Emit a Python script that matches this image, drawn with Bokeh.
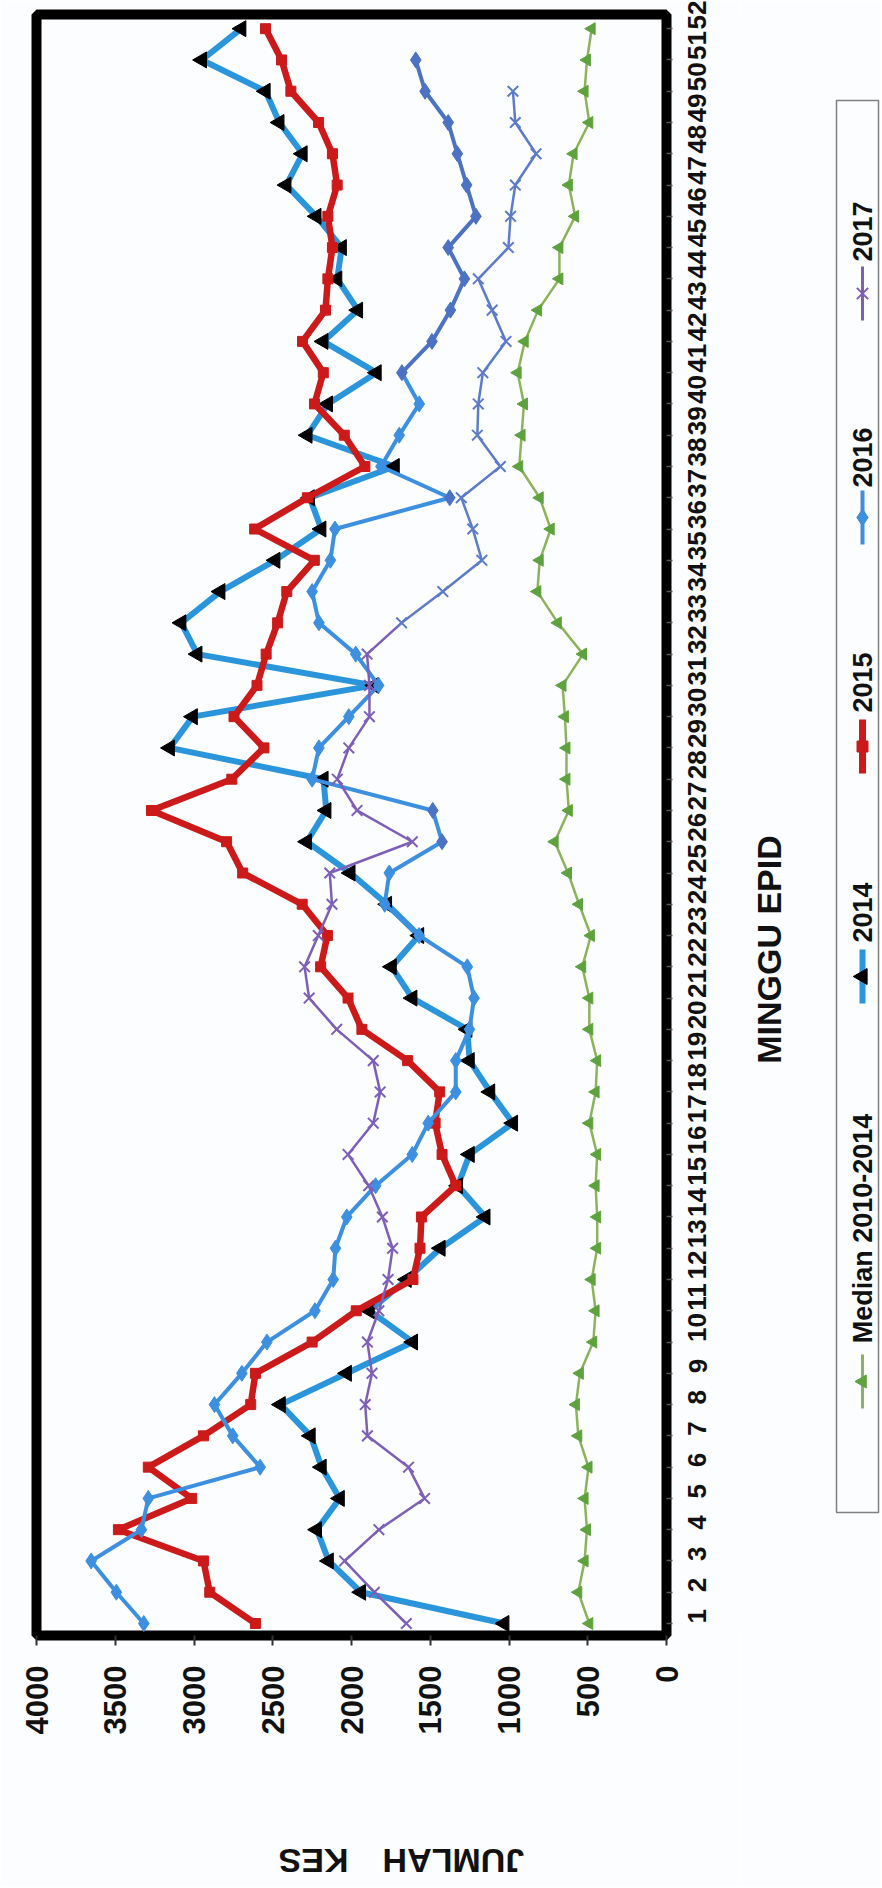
import math
from bokeh.plotting import figure
from bokeh.models import Range1d, FixedTicker, Label
from bokeh.layouts import row
from bokeh.embed import file_html
from bokeh.resources import INLINE
from bokeh.core.properties import value

NAN = float("nan")

# ---------------- data ----------------
WEEKS = list(range(1, 53))
CASE_TICKS = [0, 500, 1000, 1500, 2000, 2500, 3000, 3500, 4000]
SERIES_NAMES = ["Median 2010-2014", "2014", "2015", "2016", "2017"]

MEDIAN_2010_2014 = [490, 560, 520, 505, 520, 495, 560, 575, 550, 465,
                    450, 475, 440, 440, 450, 440, 490, 450, 440, 490,
                    490, 535, 480, 555, 625, 710, 620, 635, 635, 645,
                    660, 530, 690, 820, 805, 735, 805, 935, 920, 905,
                    945, 900, 815, 680, 680, 580, 620, 590, 490, 520,
                    505, 475]

CASES_2014 = [1030, 1940, 2145, 2220, 2075, 2190, 2260, 2450, 2030, 1610,
              1885, 1650, 1435, 1150, 1325, 1250, 975, 1120, 1250, 1265,
              1614, 1745, 1571, 1775, 2007, 2284, 2160, 2178, 3154, 3008,
              1857, 2979, 3081, 2833, 2484, 2192, 2265, 1726, 2280, 2150,
              1841, 2179, 1959, 2091, 2062, 2223, 2414, 2311, 2458, 2546,
              2950, 2700]

CASES_2015 = [2610, 2900, 2940, 3480, 3015, 3290, 2940, 2640, 2610, 2250,
              1970, 1610, 1565, 1556, 1338, 1425, 1469, 1440, 1644, 1934,
              2022, 2196, 2153, 2313, 2691, 2793, 3270, 2760, 2556, 2746,
              2600, 2542, 2469, 2411, 2236, 2615, 2280, 1915, 2046, 2235,
              2179, 2311, 2165, 2150, 2121, 2150, 2091, 2121, 2209, 2385,
              2444, 2546]

CASES_2016 = [3319, 3493, 3653, 3334, 3290, 2580, 2754, 2870, 2696, 2537,
              2232, 2116, 2102, 2030, 1847, 1614, 1513, 1338, 1338, 1251,
              1222, 1265, 1571, 1789, 1760, 1425, 1484, 2250, 2207, 2017,
              1828, 1973, 2207, 2250, 2134, 2105, 1376, 1813, 1697, 1570,
              1680, 1489, 1372, 1283, 1386, 1210, 1269, 1328, 1386, 1533,
              1592, NAN]

CASES_2017 = [1652, 1855, 2044, 1826, 1536, 1638, 1899, 1913, 1870, 1899,
              1826, 1768, 1739, 1804, 1891, 2022, 1862, 1818, 1862, 2094,
              2269, 2298, 2211, 2124, 2138, 1614, 1965, 2090, 2017, 1886,
              1886, 1901, 1682, 1420, 1172, 1230, 1303, 1055, 1201, 1195,
              1166, 1019, 1107, 1195, 1004, 990, 960, 828, 960, 975,
              NAN, NAN]

X_TITLE = "JUMLAH\u2003KES"
Y_TITLE = "MINGGU EPID"

# ---------------- styles ----------------
BG = "#fcfdfe"
C_MED_LINE = "#8db35a"
C_MED_MARK = "#5ea23e"
C_2014 = "#2b95db"
C_2015 = "#cc1a1a"
C_2016 = "#3d8fe0"
C_2016_DARK = "#4d72c4"
C_2017 = "#7d5fb9"
C_2017_LATE = "#5c7bcb"
FONT = "Liberation Sans"
TXT = "#111111"

H = 1886
TOP = 14
FRAME_H = 1621
BOTTOM = H - TOP - FRAME_H
W_MAIN = 740
LEFT = 36
FRAME_W = 630

p = figure(width=W_MAIN, height=H,
           x_range=Range1d(4000, 0), y_range=Range1d(0.616, 52.454),
           y_axis_location="right", toolbar_location=None, output_backend="svg",
           min_border_left=LEFT, min_border_right=W_MAIN - LEFT - FRAME_W,
           min_border_top=TOP, min_border_bottom=BOTTOM,
           background_fill_color=BG, border_fill_color=BG)
p.outline_line_color = "black"
p.outline_line_width = 10
p.grid.visible = False

xa = p.xaxis[0]
xa.ticker = FixedTicker(ticks=CASE_TICKS)
xa.major_label_orientation = math.pi / 2
xa.major_label_text_font = FONT
xa.major_label_text_font_style = "bold"
xa.major_label_text_font_size = "31px"
xa.major_label_text_color = TXT
xa.major_tick_out = 10
xa.major_tick_in = 0
xa.major_tick_line_width = 2
xa.major_tick_line_color = "#333333"
xa.minor_tick_line_color = None
xa.axis_line_color = None
xa.major_label_standoff = 20

ya = p.yaxis[0]
ya.ticker = FixedTicker(ticks=WEEKS)
ya.major_label_orientation = math.pi / 2
ya.major_label_text_font = FONT
ya.major_label_text_font_style = "bold"
ya.major_label_text_font_size = "26px"
ya.major_label_text_color = TXT
ya.major_tick_out = 6
ya.major_tick_in = 0
ya.major_tick_line_width = 1.5
ya.major_tick_line_color = "#555555"
ya.minor_tick_line_color = None
ya.axis_line_color = None
ya.major_label_standoff = 25

# Median
p.line(MEDIAN_2010_2014, WEEKS, line_color=C_MED_LINE, line_width=2.5)
p.scatter(MEDIAN_2010_2014, WEEKS, marker="triangle", angle=math.pi / 2, size=12,
          fill_color=C_MED_MARK, line_color=C_MED_MARK)
# 2014
p.line(CASES_2014, WEEKS, line_color=C_2014, line_width=6)
p.scatter(CASES_2014, WEEKS, marker="triangle", angle=math.pi / 2, size=16,
          fill_color="black", line_color="black")
# 2015
p.line(CASES_2015, WEEKS, line_color=C_2015, line_width=6.5)
p.scatter(CASES_2015, WEEKS, marker="square", size=10,
          fill_color=C_2015, line_color=C_2015)
# 2016 (early part lighter, late part darker blue)
SPLIT16 = 41
p.line(CASES_2016[:SPLIT16], WEEKS[:SPLIT16], line_color=C_2016, line_width=4)
p.line(CASES_2016[SPLIT16 - 1:], WEEKS[SPLIT16 - 1:], line_color=C_2016_DARK, line_width=4)
dark16 = {26, 27, 37} | set(range(41, 53))
col16 = [C_2016_DARK if w in dark16 else C_2016 for w in WEEKS]
p.scatter(CASES_2016, WEEKS, marker="diamond", size=16, fill_color=col16, line_color=col16)
# 2017 (purple up to week 33, then bluish)
SPLIT17 = 33
p.line(CASES_2017[:SPLIT17], WEEKS[:SPLIT17], line_color=C_2017, line_width=2.5)
p.line(CASES_2017[SPLIT17 - 1:], WEEKS[SPLIT17 - 1:], line_color=C_2017_LATE, line_width=2.5)
col17 = [C_2017 if w < SPLIT17 else C_2017_LATE for w in WEEKS]
p.scatter(CASES_2017, WEEKS, marker="x", size=15, line_color=col17, line_width=2)

# case-axis title, upside down, placed in the panel below the axis
p.add_layout(Label(x=1683, y=-6.6, x_units="data", y_units="data", text=X_TITLE,
                   angle=math.pi, text_align="center", text_baseline="middle",
                   text_font=FONT, text_font_style="bold", text_font_size="34px",
                   text_color=TXT), "below")

# ---------------- side panel: axis title + rotated legend ----------------
# coordinates of this panel are page pixels (x to the right, y downward)
side = figure(width=140, height=H, x_range=Range1d(740, 880), y_range=Range1d(TOP + FRAME_H, TOP),
              x_axis_location=None, y_axis_location=None, toolbar_location=None,
              output_backend="svg", min_border_left=0, min_border_right=0,
              min_border_top=TOP, min_border_bottom=BOTTOM,
              background_fill_color=BG, border_fill_color=BG)
side.grid.visible = False
side.outline_line_color = None

side.text(x=[768], y=[949], text=[Y_TITLE], angle=math.pi / 2,
          text_align="center", text_baseline="middle", text_font=value(FONT),
          text_font_style="bold", text_font_size="34px", text_color=TXT)

side.quad(left=[836], right=[878], top=[100], bottom=[1512],
          fill_color=None, line_color="#808080", line_width=1.5)

LX = 862
mark_y = [1381, 976, 746, 517, 293]
text_y = [1228, 912, 682, 457, 231]
leg_line = [C_MED_LINE, C_2014, C_2015, C_2016, C_2017]
leg_lw = [3, 6, 7, 4, 3]
for i, name in enumerate(SERIES_NAMES):
    my = mark_y[i]
    side.segment(x0=[LX], y0=[my - 27], x1=[LX], y1=[my + 27],
                 line_color=leg_line[i], line_width=leg_lw[i])
    side.text(x=[LX], y=[text_y[i]], text=[name], angle=math.pi / 2,
              text_align="center", text_baseline="middle",
              text_font=value(FONT), text_font_style="bold",
              text_font_size="27px", text_color=TXT)
side.scatter([LX], [mark_y[0]], marker="triangle", angle=math.pi / 2, size=13,
             fill_color=C_MED_MARK, line_color=C_MED_MARK)
side.scatter([LX], [mark_y[1]], marker="triangle", angle=math.pi / 2, size=16,
             fill_color="black", line_color="black")
side.scatter([LX], [mark_y[2]], marker="square", size=11,
             fill_color=C_2015, line_color=C_2015)
side.scatter([LX], [mark_y[3]], marker="diamond", size=17,
             fill_color=C_2016, line_color=C_2016)
side.scatter([LX], [mark_y[4]], marker="x", size=16, line_color=C_2017, line_width=2)

layout = row(p, side)
open("out.html", "w").write(file_html(layout, INLINE))
